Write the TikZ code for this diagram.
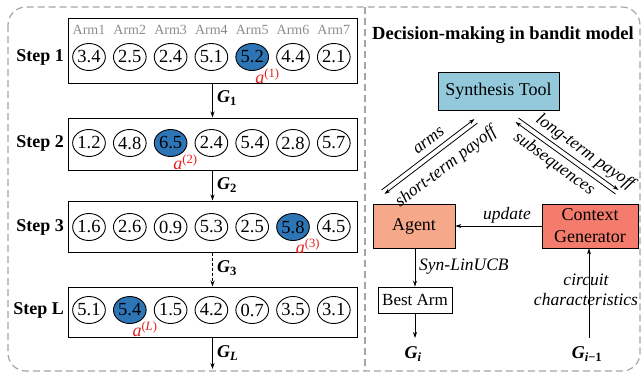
\documentclass[tikz,border=0pt]{standalone}
\usepackage{fontspec}
\setmainfont{Liberation Serif}
\usetikzlibrary{arrows.meta,shapes.geometric}
\definecolor{selblue}{RGB}{46,117,182}
\definecolor{toolblue}{RGB}{147,201,219}
\definecolor{agentc}{RGB}{246,168,138}
\definecolor{ctxc}{RGB}{244,124,108}
\definecolor{armgray}{RGB}{140,140,140}
\definecolor{bordergray}{RGB}{165,165,165}
\definecolor{alabel}{RGB}{230,30,30}
\begin{document}
\begin{tikzpicture}[x=1pt,y=-1pt,
  armc/.style={ellipse,draw,line width=0.9pt,minimum width=31pt,minimum height=27pt,inner sep=0pt,font=\fontsize{18.5}{18.5}\selectfont},
  selc/.style={armc,fill=selblue},
  armlab/.style={text=armgray,font=\fontsize{14}{14}\selectfont,inner sep=0pt},
  stepbox/.style={draw,line width=1pt,rectangle,inner sep=0pt,minimum width=289pt},
  steplab/.style={anchor=east,font=\fontsize{18}{18}\selectfont\bfseries,inner sep=0pt},
  glab/.style={anchor=west,font=\fontsize{18}{18}\selectfont,inner sep=0pt},
  alab/.style={text=alabel,font=\fontsize{18}{18}\selectfont,inner sep=0pt},
  arr/.style={line width=0.8pt,-{Stealth[length=6pt,width=4pt]}},
  rbox/.style={draw,line width=0.9pt,rectangle,inner sep=0pt,font=\fontsize{18}{18}\selectfont,align=center},
  itlab/.style={font=\fontsize{17.5}{20}\selectfont\itshape,inner sep=0pt,align=center},
  border/.style={draw=bordergray,line width=1.2pt,dash pattern=on 7pt off 4pt}
]
\useasboundingbox (0,0) rectangle (641,373);
% outer border
\draw[border,rounded corners=18pt] (8,7) rectangle (640,371);
\draw[border] (365,7) -- (365,371);

% step boxes
\node[stepbox,minimum height=65pt] (s1) at (212.5,50.5) {};
\node[stepbox,minimum height=52pt] (s2) at (212.5,144) {};
\node[stepbox,minimum height=51pt] (s3) at (212.5,226.5) {};
\node[stepbox,minimum height=50pt] (sL) at (212.5,312) {};

\node[steplab] (l1) at (64,57) {Step 1};
\node[steplab] (l2) at (64,143) {Step 2};
\node[steplab] (l3) at (64,227) {Step 3};
\node[steplab] (lL) at (64,310) {Step L};

% arm labels
\foreach \i/\x in {1/89,2/129.8,3/170.6,4/211.4,5/252.2,6/293,7/333.8}{
  \node[armlab] (arm\i) at (\x,30) {Arm\i};
}
% row 1
\foreach \i/\x/\v in {1/89/3.4,2/129.8/2.5,3/170.6/2.4,4/211.4/5.1,6/293/4.4,7/333.8/2.1}{
  \node[armc] (r1c\i) at (\x,57) {\v};
}
\node[selc] (r1c5) at (252.2,57) {5.2};
% row 2
\foreach \i/\x/\v in {1/89/1.2,2/129.8/4.8,4/211.4/2.4,5/252.2/5.4,6/293/2.8,7/333.8/5.7}{
  \node[armc] (r2c\i) at (\x,143) {\v};
}
\node[selc] (r2c3) at (170.6,143) {6.5};
% row 3
\foreach \i/\x/\v in {1/89/1.6,2/129.8/2.6,3/170.6/0.9,4/211.4/5.3,5/252.2/2.5,7/333.8/4.5}{
  \node[armc] (r3c\i) at (\x,227) {\v};
}
\node[selc] (r3c6) at (293,227) {5.8};
% row L
\foreach \i/\x/\v in {1/89/5.1,3/170.6/1.5,4/211.4/4.2,5/252.2/0.7,6/293/3.5,7/333.8/3.1}{
  \node[armc] (rLc\i) at (\x,310) {\v};
}
\node[selc] (rLc2) at (129.8,310) {5.4};

% selected-arm labels
\node[alab] (a1) at (267.5,76) {\textit{a}\textsuperscript{(1)}};
\node[alab] (a2) at (185.5,162) {\textit{a}\textsuperscript{(2)}};
\node[alab] (a3) at (308,246) {\textit{a}\textsuperscript{(3)}};
\node[alab] (aL) at (145,329) {\textit{a}\textsuperscript{(\textit{L})}};

% step arrows
\coordinate (gend) at (212.5,369);
\draw[arr] (s1.south) -- (s2.north);
\draw[arr] (s2.south) -- (s3.north);
\draw[arr,dashed,dash pattern=on 3pt off 2pt] (s3.south) -- (sL.north);
\draw[arr] (sL.south) -- (gend);
\node[glab] (g1) at (217,98) {\textbf{\textit{G}\textsubscript{1}}};
\node[glab] (g2) at (217,185) {\textbf{\textit{G}\textsubscript{2}}};
\node[glab] (g3) at (217,268) {\textbf{\textit{G}\textsubscript{3}}};
\node[glab] (gL) at (217,353) {\textbf{\textit{G}\textsubscript{\textit{L}}}};

% right panel
\node[font=\fontsize{18.5}{18.5}\selectfont\bfseries,inner sep=0pt] (title) at (503,35) {Decision-making in bandit model};
\node[rbox,fill=toolblue,minimum width=121pt,minimum height=38pt] (tool) at (498.5,91) {Synthesis Tool};
\node[rbox,fill=agentc,minimum width=82pt,minimum height=44pt] (agent) at (414,226) {Agent};
\node[rbox,fill=ctxc,minimum width=96pt,minimum height=44pt,font=\fontsize{18}{22}\selectfont] (ctx) at (590,226) {Context\\Generator};
\node[rbox,fill=white,minimum width=74pt,minimum height=26pt,font=\fontsize{17}{17}\selectfont] (best) at (415,300) {Best Arm};
\node[font=\fontsize{18}{18}\selectfont,inner sep=0pt] (gi) at (413,354) {\textbf{\textit{G}\textsubscript{\textit{i}}}};
\node[font=\fontsize{18}{18}\selectfont,inner sep=0pt] (gim) at (587,354) {\textbf{\textit{G}\textsubscript{\textit{i}−1}}};

\draw[arr] (ctx.west) -- (agent.east);
\node[itlab] (upd) at (507,215) {update};
\draw[arr] (agent.south -| best.north) -- (best.north);
\node[itlab,anchor=west] (syn) at (419,267) {Syn-LinUCB};
\coordinate (giTop) at (415,338);
\draw[arr] (best.south) -- (giTop);
\coordinate (gimTop) at (589,338);
\draw[arr] (gimTop) -- (gimTop |- ctx.south);
\node[itlab] (cc) at (586,290) {circuit\\characteristics};

% diagonal arrows left
\coordinate (armsS) at (381.5,190);
\coordinate (armsE) at (474.5,119);
\coordinate (stpS) at (477.5,123);
\coordinate (stpE) at (384.5,194);
\draw[arr] (armsS) -- (armsE);
\draw[arr] (stpS) -- (stpE);
\node[itlab,rotate=37.4] (armsl) at (429,141) {arms};
\node[itlab,rotate=37.4] (stpl) at (446,167) {short-term payoff};
% diagonal arrows right
\coordinate (ltpS) at (518.5,118);
\coordinate (ltpE) at (618.5,190);
\coordinate (subS) at (615.5,194);
\coordinate (subE) at (515.5,122);
\draw[arr] (ltpS) -- (ltpE);
\draw[arr] (subS) -- (subE);
\node[itlab,rotate=-35.8] (ltpl) at (585,152) {long-term payoff};
\node[itlab,rotate=-35.8] (subl) at (554,164) {subsequences};
\end{tikzpicture}
\end{document}
